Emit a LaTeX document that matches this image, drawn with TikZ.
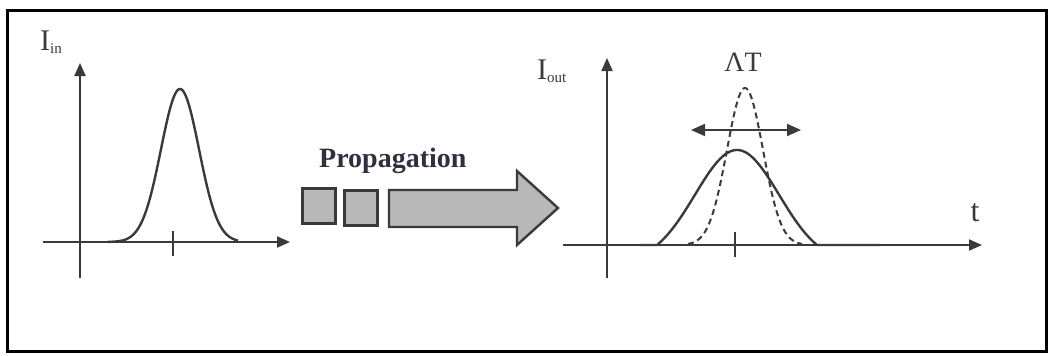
\documentclass[tikz,border=0pt]{standalone}
\usepackage{fontspec}
\setmainfont{Liberation Serif}
\usetikzlibrary{arrows.meta}
\definecolor{ink}{HTML}{3A3A3A}
\definecolor{boxfill}{HTML}{B8B8B8}
\definecolor{textink}{HTML}{30303C}
\tikzset{
  axis/.style={draw=ink, line width=1.8pt, -{Triangle[length=13pt,width=11pt]}},
  pulse/.style={draw=ink, line width=2.4pt, line join=round},
  dpulse/.style={draw=ink, line width=2pt, dash pattern=on 6pt off 4pt},
  block/.style={draw=ink, fill=boxfill, line width=2.4pt, minimum width=33pt, minimum height=35pt, inner sep=0pt},
  lbl/.style={inner sep=0pt, text=ink},
}
\begin{document}
\begin{tikzpicture}[x=1pt, y=-1pt]
\useasboundingbox (0,0) rectangle (1052,356);
% outer frame
\draw[line width=3pt, black] (7,10) rectangle (1046,351);

% ---------- input pulse ----------
\coordinate (inYlo) at (80,278);
\coordinate (inYhi) at (80,63);
\coordinate (inXlo) at (43,242);
\coordinate (inXhi) at (290,242);
\draw[axis] (inYlo) -- (inYhi);
\draw[axis] (inXlo) -- (inXhi);
\draw[draw=ink, line width=1.8pt] (173,231) -- (173,256);
\draw[pulse] plot[domain=108:238, samples=120] (\x, {242-153*exp(-((\x-180)/19)^2/2)});
\node[lbl, anchor=base west] (Iin) at (40,50) {\fontsize{30}{30}\selectfont I\raisebox{-3pt}{\fontsize{15}{15}\selectfont in}};

% ---------- propagation ----------
\node[block] (sq1) at (319,206) {};
\node[block] (sq2) at (361,208) {};
\draw[draw=ink, fill=boxfill, line width=2.4pt, line join=miter]
  (389,190) -- (517,190) -- (517,171) -- (558,208) -- (517,245) -- (517,227) -- (389,227) -- cycle;
\node[inner sep=0pt, anchor=base west, text=textink] (prop) at (319,167)
  {\fontsize{28}{28}\selectfont\bfseries Propagation};

% ---------- output pulse ----------
\coordinate (outYlo) at (607,278);
\coordinate (outYhi) at (607,58);
\coordinate (outXlo) at (563,245);
\coordinate (outXhi) at (982,245);
\draw[axis] (outYlo) -- (outYhi);
\draw[axis] (outXlo) -- (outXhi);
\draw[draw=ink, line width=1.8pt] (735,232) -- (735,257);
\draw[dpulse] plot[domain=688:802, samples=100] (\x, {245-157*exp(-((\x-745)/18)^2/2)});
% broadened pulse: truncated gaussian with flat tails
\draw[pulse] (640,245) -- (657,245)
  -- plot[domain=657:817, samples=120] (\x, {245-95*(exp(-((\x-737)/42)^2/2)-0.1633)/0.8367})
  -- (880,245);
\coordinate (dtL) at (691,130);
\coordinate (dtR) at (801,130);
\draw[draw=ink, line width=1.8pt, {Triangle[length=14pt,width=12pt]}-{Triangle[length=14pt,width=12pt]}] (dtL) -- (dtR);
\node[lbl, anchor=base] (dT) at (743,71) {\fontsize{28}{28}\selectfont ΛT};
\node[lbl, anchor=base] (tlab) at (975,221) {\fontsize{32}{32}\selectfont t};
\node[lbl, anchor=base west] (Iout) at (537,79) {\fontsize{30}{30}\selectfont I\raisebox{-3pt}{\fontsize{15}{15}\selectfont out}};
\end{tikzpicture}
\end{document}
